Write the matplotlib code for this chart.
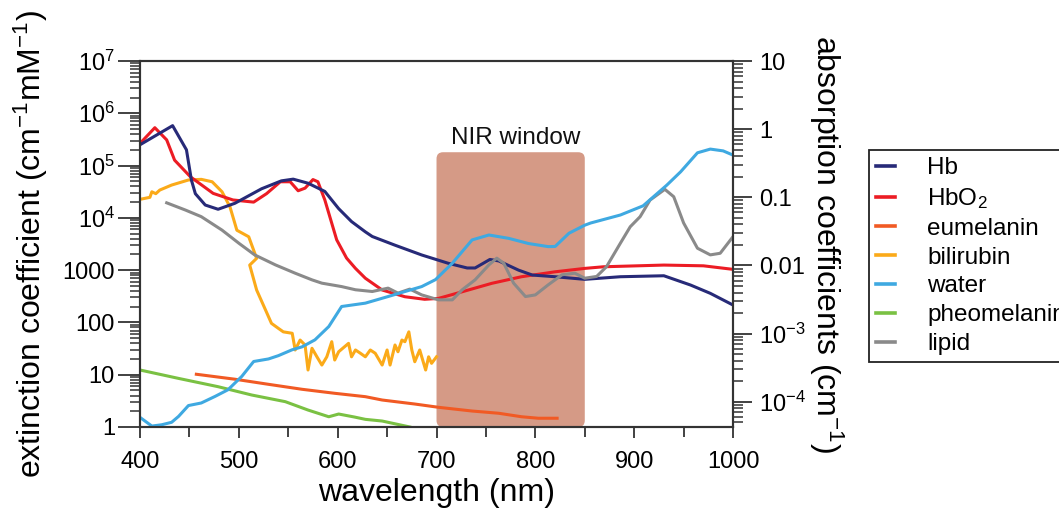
import matplotlib
matplotlib.use("Agg")
import matplotlib.pyplot as plt
from matplotlib.patches import FancyBboxPatch
from matplotlib.lines import Line2D
from matplotlib.ticker import FixedLocator, FixedFormatter, LogLocator, NullFormatter, MultipleLocator

plt.rcParams['font.family'] = ['Liberation Sans', 'DejaVu Sans']
plt.rcParams['mathtext.fontset'] = 'custom'
plt.rcParams['mathtext.rm'] = 'Liberation Sans'
plt.rcParams['mathtext.it'] = 'Liberation Sans:italic'
plt.rcParams['mathtext.default'] = 'regular'

# ---- molar extinction coefficients (cm^-1 mM^-1) ----
hb_nm = [400, 433, 447, 452, 456, 466, 479, 496, 523, 543, 555, 570, 587, 601,
         614, 628, 635, 658, 685, 712, 731, 739, 754, 763, 783, 797, 820, 850,
         886, 930, 957, 977, 1000]
hb = [2.5e5, 5.8e5, 2.0e5, 5.3e4, 2.9e4, 1.76e4, 1.46e4, 1.9e4, 3.6e4, 5.1e4,
      5.5e4, 4.6e4, 3.2e4, 1.5e4, 8.5e3, 5.4e3, 4.4e3, 3.0e3, 1.95e3, 1.35e3,
      1.1e3, 1.1e3, 1.6e3, 1.5e3, 1.0e3, 805, 748, 667, 748, 781, 519, 360, 215]

hbo2_nm = [400, 415, 427, 435, 451, 474, 494, 515, 528, 542, 552, 560, 567, 575,
           580, 587, 599, 609, 618, 628, 645, 668, 688, 702, 726, 756, 786, 820,
           850, 869, 930, 970, 1000]
hbo2 = [2.65e5, 5.3e5, 3.1e5, 1.27e5, 6.1e4, 2.94e4, 2.2e4, 2.0e4, 2.9e4, 4.9e4,
        4.9e4, 3.3e4, 3.7e4, 5.4e4, 4.9e4, 2.2e4, 3.8e3, 1.7e3, 1.08e3, 700,
        417, 310, 277, 288, 386, 560, 748, 930, 1080, 1160, 1250, 1210, 1035]

eumelanin_nm = [457, 496, 530, 564, 597, 628, 645, 678, 702, 736, 763, 786, 803, 822]
eumelanin = [10.2, 8.2, 6.55, 5.26, 4.41, 3.8, 3.28, 2.75, 2.38, 2.02, 1.83,
             1.57, 1.47, 1.47]

bilirubin_nm = [400, 410, 412, 416, 420, 432, 449, 462, 473, 483, 491, 498, 510,
                518, 511, 518, 527, 533, 540, 545, 554, 557, 562, 567, 570, 574,
                579, 584, 589, 594, 597, 601, 611, 614, 618, 623, 628, 633, 638,
                645, 650, 653, 658, 661, 665, 668, 672, 675, 678, 683, 689, 692,
                695, 700]
bilirubin = [2.26e4, 2.47e4, 3.15e4, 2.9e4, 3.4e4, 4.24e4, 5.3e4, 5.45e4, 4.9e4,
             3.15e4, 1.63e4, 5.8e3, 4.35e3, 1.68e3, 1.25e3, 417, 173, 96, 77, 66,
             62, 29.7, 46, 37, 12.3, 32, 22, 15.3, 22, 42.8, 19.1, 27.5, 39.8, 22,
             29.7, 25.7, 22, 29.7, 25.7, 15.3, 29.7, 15.3, 37, 27.5, 46, 42.8, 66,
             29.7, 17.7, 29.7, 12.3, 22, 16.5, 22]

pheomelanin_nm = [400, 439, 479, 513, 547, 570, 591, 601, 617, 628, 645, 673]
pheomelanin = [12.3, 8.5, 5.9, 4.09, 3.05, 2.11, 1.57, 1.77, 1.55, 1.4, 1.3, 1.0]

# ---- absorption coefficients (cm^-1) ----
water_nm = [400, 412, 422, 432, 439, 449, 462, 476, 489, 503, 515, 530, 540, 554,
            564, 577, 591, 604, 628, 651, 685, 699, 716, 736, 753, 773, 793, 813,
            820, 834, 850, 856, 886, 909, 933, 947, 964, 977, 990, 1000]
water = [5.9e-5, 4.4e-5, 4.6e-5, 5.0e-5, 6.1e-5, 8.8e-5, 9.6e-5, 1.2e-4, 1.5e-4,
         2.36e-4, 3.9e-4, 4.25e-4, 4.75e-4, 5.8e-4, 6.4e-4, 8.1e-4, 1.27e-3,
         2.5e-3, 2.8e-3, 3.5e-3, 4.9e-3, 6.2e-3, 1.08e-2, 2.37e-2, 2.8e-2, 2.5e-2,
         2.1e-2, 1.89e-2, 1.9e-2, 2.97e-2, 3.9e-2, 4.2e-2, 5.5e-2, 7.5e-2, 0.151,
         0.237, 0.45, 0.51, 0.48, 0.416]

lipid_nm = [427, 446, 462, 483, 500, 516, 537, 557, 574, 584, 604, 618, 635, 651,
            661, 673, 685, 702, 716, 726, 739, 753, 761, 768, 778, 790, 800, 813,
            827, 840, 850, 862, 872, 886, 896, 906, 916, 931, 940, 950, 964, 977,
            987, 1000]
lipid = [8.3e-2, 6.5e-2, 5.2e-2, 3.3e-2, 2.12e-2, 1.43e-2, 1.02e-2, 7.7e-3, 6.15e-3,
         5.5e-3, 4.9e-3, 4.4e-3, 4.15e-3, 4.65e-3, 3.93e-3, 4.5e-3, 3.7e-3, 3.13e-3,
         3.13e-3, 4.4e-3, 6.15e-3, 1.02e-2, 1.28e-2, 1.08e-2, 5.5e-3, 3.5e-3, 3.7e-3,
         5.2e-3, 7.3e-3, 7.7e-3, 6.5e-3, 6.9e-3, 9.6e-3, 2.12e-2, 3.7e-2, 5.2e-2,
         9.1e-2, 0.131, 0.102, 4.2e-2, 1.79e-2, 1.43e-2, 1.51e-2, 2.65e-2]

nir_range = (700, 850)
nir_top = 1.8e5

left_ticks = [1, 10, 100, 1000, 1e4, 1e5, 1e6, 1e7]
left_labels = ['1', '10', '100', '1000', '$10^{4}$', '$10^{5}$', '$10^{6}$', '$10^{7}$']
right_ticks = [1e-4, 1e-3, 1e-2, 1e-1, 1, 10]
right_labels = ['$10^{-4}$', '$10^{-3}$', '0.01', '0.1', '1', '10']
x_ticks = [400, 500, 600, 700, 800, 900, 1000]

colors = {
    'Hb': '#272a78', 'HbO2': '#ec1c24', 'eumelanin': '#f15a24',
    'bilirubin': '#fbaa19', 'water': '#3fa9e1', 'pheomelanin': '#7ac143',
    'lipid': '#8a8a8a',
}

spine_c = '#333333'
lw = 2.2

fig = plt.figure(figsize=(10.59, 5.17), dpi=100)
ax = fig.add_axes([0.1322, 0.1741, 0.5600, 0.7079])
ax2 = ax.twinx()

ax.set_xlim(400, 1000)
ax.set_yscale('log')
ax.set_ylim(1, 1e7)
ax2.set_yscale('log')
ax2.set_ylim(10 ** -4.37, 10)

# NIR window shaded box (rounded corners, drawn in axes coordinates)
to_axes = ax.transData + ax.transAxes.inverted()
(x0, y0) = to_axes.transform((nir_range[0], 1))
(x1, y1) = to_axes.transform((nir_range[1], nir_top))
bbox_w_px = 0.56 * 1059
bbox_h_px = 0.7079 * 517
box = FancyBboxPatch((x0, y0), x1 - x0, y1 - y0,
                     boxstyle="round,pad=0,rounding_size=0.011",
                     mutation_aspect=bbox_w_px / bbox_h_px,
                     transform=ax.transAxes, facecolor='#d59a86',
                     edgecolor='none', zorder=0.5)
ax.add_patch(box)
ax.text((nir_range[0] + nir_range[1]) / 2 + 5, 3.4e5, 'NIR window',
        ha='center', va='center', fontsize=17.5, color='#111111')

ax.plot(hb_nm, hb, color=colors['Hb'], lw=lw, zorder=3)
ax.plot(hbo2_nm, hbo2, color=colors['HbO2'], lw=lw, zorder=2.9)
ax.plot(eumelanin_nm, eumelanin, color=colors['eumelanin'], lw=lw, zorder=2)
ax.plot(bilirubin_nm, bilirubin, color=colors['bilirubin'], lw=lw, zorder=2)
ax.plot(pheomelanin_nm, pheomelanin, color=colors['pheomelanin'], lw=lw, zorder=2)
ax2.plot(water_nm, water, color=colors['water'], lw=lw, zorder=2)
ax2.plot(lipid_nm, lipid, color=colors['lipid'], lw=lw, zorder=1.9)

# axes styling
for a in (ax, ax2):
    for s in a.spines.values():
        s.set_color(spine_c)
        s.set_linewidth(1.5)

ax.xaxis.set_major_locator(FixedLocator(x_ticks))
ax.xaxis.set_minor_locator(MultipleLocator(50))
ax.tick_params(axis='x', which='major', direction='out', length=8, width=1.3,
               color=spine_c, labelsize=17, pad=9, top=False)
ax.tick_params(axis='x', which='minor', direction='out', length=7.5, width=1.3,
               color=spine_c, top=False)

ax.yaxis.set_major_locator(FixedLocator(left_ticks))
ax.yaxis.set_major_formatter(FixedFormatter(left_labels))
ax.yaxis.set_minor_locator(LogLocator(base=10, subs=range(2, 10), numticks=20))
ax.yaxis.set_minor_formatter(NullFormatter())
ax.tick_params(axis='y', which='major', direction='out', length=15.5, width=1.3,
               color=spine_c, labelsize=17, pad=2.5, right=False)
ax.tick_params(axis='y', which='minor', direction='out', length=7.5, width=1.1,
               color=spine_c, right=False)

ax2.yaxis.set_major_locator(FixedLocator(right_ticks))
ax2.yaxis.set_major_formatter(FixedFormatter(right_labels))
ax2.yaxis.set_minor_locator(LogLocator(base=10, subs=range(2, 10), numticks=20))
ax2.yaxis.set_minor_formatter(NullFormatter())
ax2.tick_params(axis='y', which='major', direction='out', length=14, width=1.3,
                color=spine_c, labelsize=17, pad=5)
ax2.tick_params(axis='y', which='minor', direction='out', length=7, width=1.1,
                color=spine_c)

ax.set_xlabel('wavelength (nm)', fontsize=23, labelpad=4)
ax.set_ylabel('extinction coefficient (cm$^{-1}$mM$^{-1}$)', fontsize=23)
ax.yaxis.set_label_coords(-0.152, 0.5)
ax2.set_ylabel('absorption coefficients (cm$^{-1}$)', fontsize=23,
               rotation=270, va='bottom')
ax2.yaxis.set_label_coords(1.124, 0.5)

handles = [Line2D([], [], color=colors[k], lw=2.6) for k in colors]
labels = ['Hb', 'HbO$_2$', 'eumelanin', 'bilirubin', 'water', 'pheomelanin', 'lipid']
leg = fig.legend(handles, labels, loc='upper left',
                 bbox_to_anchor=(869 / 1059, 1 - 150 / 517),
                 bbox_transform=fig.transFigure, borderaxespad=0,
                 fontsize=17.5, frameon=True, fancybox=False, framealpha=1,
                 edgecolor='#222222', handlelength=0.75, handletextpad=1.35,
                 labelspacing=0.28, borderpad=0.3)
leg.get_frame().set_linewidth(1.3)

fig.savefig('out.png', dpi=100)
